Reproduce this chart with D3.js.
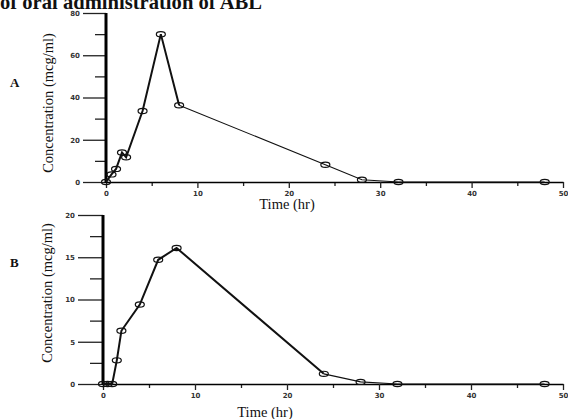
<!DOCTYPE html>
<html>
<head>
<meta charset="utf-8">
<script src="https://cdn.jsdelivr.net/npm/d3@7"></script>
<style>
  body { margin: 0; background: #fff; }
  svg { display: block; }
  .tick text { font-family: "DejaVu Sans", sans-serif; font-weight: bold; font-size: 7px; fill: #333; }
  .serif { font-family: "Liberation Serif", "Times New Roman", serif; fill: #111; }
</style>
</head>
<body>
<div id="chart"></div>
<script>
// data
var timeA = [0, 0.6, 1.1, 1.75, 2.2, 4, 6, 8, 24, 28, 32, 48];
var concA = [0, 3.6, 6.2, 14, 11.7, 33.6, 70, 36.3, 8.2, 1.1, 0, 0];
var timeB = [0, 0.5, 1, 1.5, 2, 4, 6, 8, 24, 28, 32, 48];
var concB = [0, 0, 0, 2.8, 6.3, 9.4, 14.7, 16.1, 1.2, 0.25, 0, 0];

var xTicks = [0, 10, 20, 30, 40, 50];
var xMinor = [5, 15, 25, 35, 45];
var yTicksA = [0, 20, 40, 60, 80];
var yMinorA = [10, 30, 50, 70];
var yTicksB = [0, 5, 10, 15, 20];
var yMinorB = [2.5, 7.5, 12.5, 17.5];

var svg = d3.select("#chart").append("svg")
  .attr("width", 568)
  .attr("height", 419);

// cut-off title at the top
svg.append("text")
  .attr("class", "serif")
  .attr("x", 0)
  .attr("y", 9)
  .attr("font-size", 22)
  .attr("font-weight", "bold")
  .attr("textLength", 262)
  .attr("lengthAdjust", "spacingAndGlyphs")
  .text("of oral administration of ABL");

function panel(cfg) {
  var x = d3.scaleLinear().domain([0, 50]).range([cfg.x0, 563]);
  var y = d3.scaleLinear().domain([0, cfg.yMax]).range([cfg.y0, cfg.y1]);
  var g = svg.append("g");

  // minor y ticks
  g.append("g")
    .attr("transform", `translate(${cfg.x0},0)`)
    .call(d3.axisLeft(y).tickValues(cfg.yMinor).tickSize(cfg.minorLen).tickFormat(""))
    .call(a => a.select(".domain").remove());

  // major y ticks
  g.append("g")
    .attr("transform", `translate(${cfg.x0},0)`)
    .call(d3.axisLeft(y).tickValues(cfg.yTicks).tickSize(cfg.majorLen).tickPadding(3))
    .call(a => a.select(".domain").remove());

  // x axis
  g.append("g")
    .attr("transform", `translate(0,${cfg.y0})`)
    .call(d3.axisBottom(x).tickValues(xMinor).tickSize(4).tickFormat(""))
    .call(a => a.select(".domain").remove());
  var xa = g.append("g")
    .attr("transform", `translate(0,${cfg.y0})`)
    .call(d3.axisBottom(x).tickValues(xTicks).tickSize(6).tickPadding(3).tickSizeOuter(0));
  xa.select(".domain").attr("stroke-width", 1.5);

  g.selectAll(".tick line").attr("stroke", "#222").attr("stroke-width", 1.3);

  // thick y axis line
  g.append("line")
    .attr("x1", cfg.x0).attr("x2", cfg.x0)
    .attr("y1", y(0) + 1).attr("y2", y(cfg.yMax))
    .attr("stroke", "#000")
    .attr("stroke-width", 3);

  var pts = cfg.time.map((t, i) => ({ t: t, c: cfg.conc[i] }));
  var line = d3.line().x(d => x(d.t)).y(d => y(d.c));

  g.append("path")
    .datum(pts.slice(0, cfg.thickUpTo + 1))
    .attr("d", line)
    .attr("fill", "none")
    .attr("stroke", "#111")
    .attr("stroke-width", 2);
  g.append("path")
    .datum(pts.slice(cfg.thickUpTo))
    .attr("d", line)
    .attr("fill", "none")
    .attr("stroke", "#111")
    .attr("stroke-width", 1.1);

  g.selectAll("ellipse").data(pts).enter()
    .append("ellipse")
    .attr("cx", d => x(d.t))
    .attr("cy", d => y(d.c))
    .attr("rx", 4.5)
    .attr("ry", 2.6)
    .attr("fill", "none")
    .attr("stroke", "#111")
    .attr("stroke-width", 1.2);

  svg.append("text")
    .attr("class", "serif")
    .attr("transform", `translate(${cfg.labelX},${cfg.labelY}) rotate(-90)`)
    .attr("text-anchor", "middle")
    .attr("dy", "0.35em")
    .attr("font-size", 14.5)
    .text("Concentration (mcg/ml)");

  svg.append("text")
    .attr("class", "serif")
    .attr("x", cfg.timeX)
    .attr("y", cfg.timeY)
    .attr("text-anchor", "middle")
    .attr("font-size", 14.5)
    .text("Time (hr)");

  svg.append("text")
    .attr("class", "serif")
    .attr("x", 10)
    .attr("y", cfg.letterY)
    .attr("font-size", 13)
    .attr("font-weight", "bold")
    .text(cfg.letter);
}

panel({
  time: timeA, conc: concA, yMax: 80, yTicks: yTicksA, yMinor: yMinorA,
  x0: 106, y0: 182, y1: 13, majorLen: 23, minorLen: 11, thickUpTo: 7,
  labelX: 48, labelY: 103, timeX: 287, timeY: 209, letter: "A", letterY: 87
});

panel({
  time: timeB, conc: concB, yMax: 20, yTicks: yTicksB, yMinor: yMinorB,
  x0: 103, y0: 384, y1: 215, majorLen: 25, minorLen: 13, thickUpTo: 8,
  labelX: 47, labelY: 293, timeX: 265, timeY: 417, letter: "B", letterY: 267
});
</script>
</body>
</html>
